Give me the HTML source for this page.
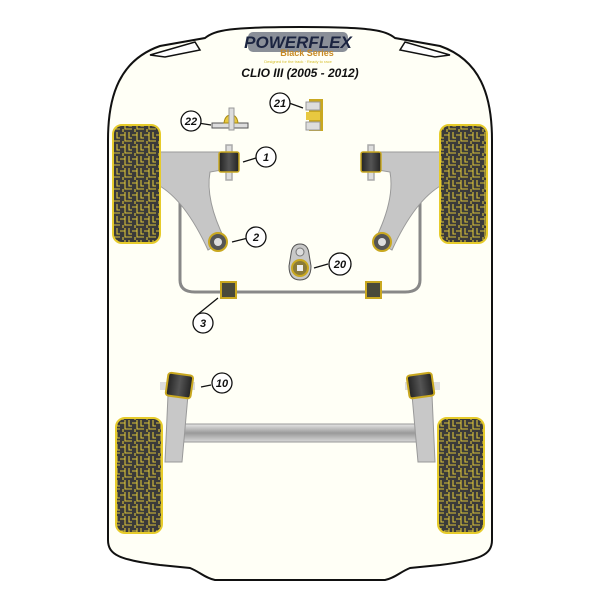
<!DOCTYPE html>
<html><head><style>body{margin:0;background:#fff}svg{display:block}</style></head><body>
<svg width="600" height="600" viewBox="0 0 600 600" xmlns="http://www.w3.org/2000/svg" font-family="Liberation Sans, sans-serif">
<defs>
<pattern id="tread" width="12" height="12" patternUnits="userSpaceOnUse">
<rect width="12" height="12" fill="#3a3a3a"/>
<path d="M0 3H5V9H12M5 0V3M3 9V12M9 0V6H12" stroke="#d9c23a" stroke-width="1.1" fill="none"/>
</pattern>
<linearGradient id="tube" x1="0" y1="0" x2="0" y2="1"><stop offset="0" stop-color="#e6e6e6"/><stop offset="0.5" stop-color="#9a9a9a"/><stop offset="1" stop-color="#d8d8d8"/></linearGradient>
<linearGradient id="bush" x1="0" y1="0" x2="1" y2="0"><stop offset="0" stop-color="#222"/><stop offset="0.5" stop-color="#555"/><stop offset="1" stop-color="#222"/></linearGradient>
</defs>
<path d="M108 140 C108 95 120 60 160 46 L205 38 C215 30 230 27 300 27 C370 27 385 30 395 38 L440 46 C480 60 492 95 492 140 L492 540 C492 555 480 560 440 565 L410 568 C400 572 395 578 385 580 L215 580 C205 578 200 572 190 568 L160 565 C120 560 108 555 108 540 Z" fill="#fffff6" stroke="#111" stroke-width="2"/>
<path d="M150 55 L195 42 L200 50 L165 57 Z" fill="#fff" stroke="#111" stroke-width="1.5"/>
<path d="M450 55 L405 42 L400 50 L435 57 Z" fill="#fff" stroke="#111" stroke-width="1.5"/>
<rect x="248" y="32" width="100" height="20" rx="5" fill="#8a8f98"/>
<text x="298" y="48" text-anchor="middle" font-size="17" font-weight="bold" font-style="italic" fill="#1b2440">POWERFLEX</text>
<text x="307" y="56" text-anchor="middle" font-size="9" font-weight="bold" fill="#c78a25">Black Series</text>
<text x="298" y="63" text-anchor="middle" font-size="4" fill="#d6c030">Designed for the track · Ready to race</text>
<text x="300" y="77" text-anchor="middle" font-size="12" font-weight="bold" font-style="italic" fill="#111">CLIO III (2005 - 2012)</text>
<path d="M180 180 L180 280 Q180 292 195 292 L405 292 Q420 292 420 280 L420 180" fill="none" stroke="#888" stroke-width="3"/>
<path d="M158 152 L222 152 L222 170 L210 172 Q205 200 225 240 L208 250 Q185 200 158 185 Z" fill="#c6c6c6" stroke="#999"/>
<path d="M442 152 L378 152 L378 170 L390 172 Q395 200 375 240 L392 250 Q415 200 442 185 Z" fill="#c6c6c6" stroke="#999"/>
<g fill="url(#tread)" stroke="#e6cb2a" stroke-width="2">
<rect x="113" y="125" width="47" height="118" rx="9"/>
<rect x="440" y="125" width="47" height="118" rx="9"/>
<rect x="116" y="418" width="46" height="115" rx="9"/>
<rect x="438" y="418" width="46" height="115" rx="9"/>
</g>
<g stroke="#c9a820" stroke-width="1.5">
<rect x="226" y="145" width="6" height="35" fill="#ddd" stroke="#aaa"/>
<rect x="219" y="152" width="20" height="20" rx="2" fill="url(#bush)"/>
<rect x="368" y="145" width="6" height="35" fill="#ddd" stroke="#aaa"/>
<rect x="361" y="152" width="20" height="20" rx="2" fill="url(#bush)"/>
</g>
<circle cx="218" cy="242" r="9" fill="#555" stroke="#c9a820" stroke-width="2"/><circle cx="218" cy="242" r="4" fill="#ddd"/>
<circle cx="382" cy="242" r="9" fill="#555" stroke="#c9a820" stroke-width="2"/><circle cx="382" cy="242" r="4" fill="#ddd"/>
<path d="M300 244 Q292 244 291 254 L289 266 Q289 280 300 280 Q311 280 311 266 L309 254 Q308 244 300 244Z" fill="#c8c8c8" stroke="#555"/>
<circle cx="300" cy="252" r="4" fill="#ddd" stroke="#777"/>
<circle cx="300" cy="268" r="8" fill="#8a7a3a" stroke="#c9a820" stroke-width="2"/><rect x="297" y="265" width="6" height="6" fill="#eee"/>
<rect x="221" y="282" width="15" height="16" fill="#4a4a3a" stroke="#c9a820" stroke-width="2"/>
<rect x="366" y="282" width="15" height="16" fill="#4a4a3a" stroke="#c9a820" stroke-width="2"/>
<rect x="309" y="99" width="14" height="32" fill="#c9a820"/>
<rect x="306" y="102" width="14" height="8" fill="#ddd" stroke="#999"/>
<rect x="306" y="112" width="14" height="8" fill="#e8c840"/>
<rect x="306" y="122" width="14" height="8" fill="#ddd" stroke="#999"/>
<rect x="212" y="123" width="36" height="5" fill="#ddd" stroke="#555"/>
<path d="M224 123 Q225 115 231 115 Q237 115 238 123Z" fill="#e8c840" stroke="#a88a10"/>
<rect x="229" y="108" width="5" height="22" fill="#ddd" stroke="#999"/>
<rect x="178" y="424" width="245" height="18" fill="url(#tube)" stroke="#999"/>
<path d="M168 395 L188 395 L182 462 L165 462 Z" fill="#c8c8c8" stroke="#999"/>
<path d="M432 395 L412 395 L418 462 L435 462 Z" fill="#c8c8c8" stroke="#999"/>
<rect x="160" y="382" width="35" height="8" fill="#ddd"/>
<rect x="167" y="374" width="25" height="23" rx="3" fill="url(#bush)" stroke="#c9a820" stroke-width="2" transform="rotate(8 179 385)"/>
<rect x="405" y="382" width="35" height="8" fill="#ddd"/>
<rect x="408" y="374" width="25" height="23" rx="3" fill="url(#bush)" stroke="#c9a820" stroke-width="2" transform="rotate(-8 421 385)"/>
<g stroke="#111" stroke-width="1.3" fill="#fff">
<line x1="256" y1="158" x2="243" y2="162"/><circle cx="266" cy="157" r="10"/>
<line x1="248" y1="238" x2="232" y2="242"/><circle cx="256" cy="237" r="10"/>
<line x1="197" y1="315" x2="218" y2="298"/><circle cx="203" cy="323" r="10"/>
<line x1="328" y1="264" x2="314" y2="268"/><circle cx="340" cy="264" r="11"/>
<line x1="198" y1="123" x2="211" y2="125"/><circle cx="191" cy="121" r="10"/>
<line x1="289" y1="103" x2="303" y2="108"/><circle cx="280" cy="103" r="10"/>
<line x1="211" y1="385" x2="201" y2="387"/><circle cx="222" cy="383" r="10"/>
</g>
<g font-size="11" font-weight="bold" font-style="italic" text-anchor="middle" fill="#111">
<text x="266" y="161">1</text><text x="256" y="241">2</text><text x="203" y="327">3</text>
<text x="340" y="268">20</text><text x="191" y="125">22</text><text x="280" y="107">21</text><text x="222" y="387">10</text>
</g>
</svg>
</body></html>
